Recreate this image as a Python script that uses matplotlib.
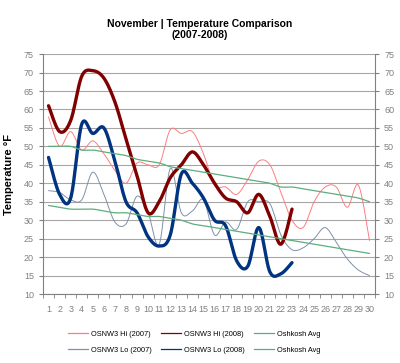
import matplotlib
matplotlib.use("Agg")
import matplotlib.pyplot as plt
import numpy as np

plt.rcParams["font.family"] = ["Liberation Sans", "DejaVu Sans"]

days = list(range(1, 31))

hi_2007 = [58, 50, 54, 49, 51.5, 48, 43.5, 40, 45.5, 45, 45, 54.5, 53.5, 54, 48,
           39.5, 39, 37, 41, 46, 45, 37.5, 30, 28, 35, 39, 39, 33.5, 39.5, 24.5]
lo_2007 = [38, 37.5, 35.5, 35.5, 43, 37, 29.5, 29, 36.5, 32, 23.5, 44, 32, 32.5, 35.5,
           26, 29.5, 27.5, 35, 35, 34.5, 26, 22, 22.5, 25, 28, 24, 19.5, 16.5, 15]
hi_2008 = [61, 54, 57, 69, 70.5, 68.5, 62, 52, 42, 32, 35, 41.5, 45, 48.5, 45,
           40, 36, 35, 32, 37, 31, 23.5, 33]
lo_2008 = [47, 37, 36, 56, 53.5, 55, 46, 35, 32, 25.5, 23, 26, 42.5, 40, 36,
           30, 28.5, 19, 17.5, 28, 16, 15.5, 18.5]
avg_hi = [50, 50, 50, 49, 49, 48.5, 48, 47.5, 46.5, 46, 45.5, 44.5, 44, 43.5, 43,
          42.5, 42, 41.5, 41, 40.5, 40, 39, 39, 38.5, 38, 37.5, 37, 36.5, 36, 35]
avg_lo = [34, 33.5, 33, 33, 33, 32.5, 32, 32, 31.5, 31, 31, 30.5, 30, 29, 28.5,
          28, 27.5, 27, 26.5, 26, 25.5, 25, 24.5, 24, 23.5, 23, 22.5, 22, 21.5, 21]


def smooth(x, y, n=20):
    # Excel-style smoothed line: cubic Bezier through every point
    x = np.asarray(x, float)
    y = np.asarray(y, float)
    px = np.concatenate([[x[0]], x, [x[-1]]])
    py = np.concatenate([[y[0]], y, [y[-1]]])
    t = np.linspace(0, 1, n)[:, None]
    xs, ys = [], []
    for i in range(len(x) - 1):
        p0 = np.array([x[i], y[i]])
        p3 = np.array([x[i + 1], y[i + 1]])
        c1 = p0 + (np.array([px[i + 2], py[i + 2]]) - np.array([px[i], py[i]])) / 6
        c2 = p3 - (np.array([px[i + 3], py[i + 3]]) - np.array([px[i + 1], py[i + 1]])) / 6
        seg = ((1 - t) ** 3) * p0 + 3 * ((1 - t) ** 2) * t * c1 + 3 * (1 - t) * t ** 2 * c2 + t ** 3 * p3
        xs.append(seg[:, 0])
        ys.append(seg[:, 1])
    return np.concatenate(xs), np.concatenate(ys)


fig = plt.figure(figsize=(4.0, 3.63), dpi=100)
ax = fig.add_axes([0.1075, 0.19, 0.83, 0.661])

series = [
    ("OSNW3 Hi (2007)", days, hi_2007, "#FF7C80", 0.7),
    ("OSNW3 Lo (2007)", days, lo_2007, "#8090A8", 0.7),
    ("OSNW3 Hi (2008)", days[:23], hi_2008, "#800000", 2.4),
    ("OSNW3 Lo (2008)", days[:23], lo_2008, "#003380", 2.4),
    ("Oshkosh Avg", days, avg_hi, "#5CAE7C", 0.9),
    ("Oshkosh Avg", days, avg_lo, "#5CAE7C", 0.9),
]

handles = []
for label, xv, yv, color, lw in series:
    sx, sy = smooth(xv, yv)
    ax.plot(sx, sy, color=color, lw=lw, solid_capstyle="round", zorder=3)
    handles.append(plt.Line2D([], [], color=color, lw=0.9, label=label))

ax.set_xlim(0.5, 30.5)
ax.set_ylim(10, 75)
ax.set_yticks(range(10, 80, 5))
ax.set_xticks(days)
ax.set_xticks(np.arange(0.5, 31, 1), minor=True)
ax.tick_params(axis="x", which="major", length=0, labelsize=6.5, labelcolor="#808080", pad=8)
ax.tick_params(axis="x", which="minor", length=3, color="#808080", direction="out")
ax.tick_params(axis="y", length=3, color="#808080", labelsize=6.5, labelcolor="#808080",
               left=True, right=True, labelleft=True, labelright=True)
ax.grid(axis="y", color="#A6A6A6", lw=0.8, zorder=0)
ax.spines["top"].set_visible(False)
for side in ["left", "right", "bottom"]:
    ax.spines[side].set_color("#808080")
    ax.spines[side].set_linewidth(0.8)

ax.set_ylabel("Temperature °F", fontsize=8, fontweight="bold", labelpad=7)
fig.text(0.5, 0.918, "November | Temperature Comparison\n(2007-2008)", ha="center",
         va="center", fontsize=7.5, fontweight="bold", linespacing=1.1)

fig.legend(handles=handles, loc="center", bbox_to_anchor=(0.485, 0.057), ncol=3,
           frameon=False, fontsize=5.3, handlelength=2.7, columnspacing=1.3,
           handletextpad=0.4, labelspacing=1.2)

fig.savefig("out.png", dpi=100)
